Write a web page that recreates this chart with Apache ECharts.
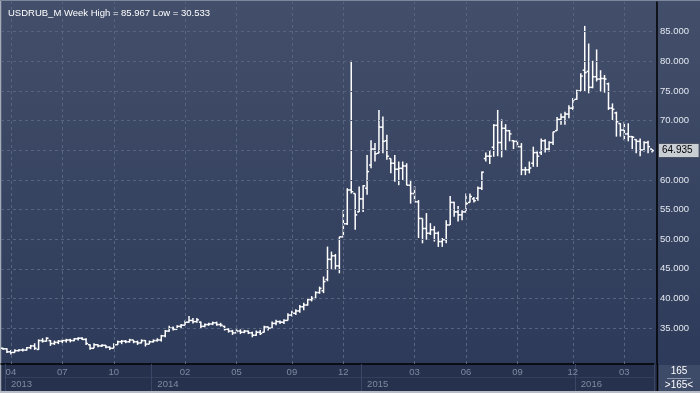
<!DOCTYPE html>
<html><head><meta charset="utf-8">
<script src="https://cdn.jsdelivr.net/npm/echarts@6/dist/echarts.min.js"></script>
<style>html,body{margin:0;padding:0;background:#2e3b58}#c{width:700px;height:393px}</style>
</head><body><div id="c"></div>
<script>
// ---- data (weekly OHLC, USDRUB_M) ----
const open = [
31.6,31.5,31.0,30.9,31.2,31.3,31.3,31.7,32.0,31.4,
32.9,32.8,32.9,32.4,32.6,32.8,32.9,33.0,32.9,33.2,
33.3,33.1,32.2,31.6,32.2,32.0,32.1,31.8,31.6,32.2,
32.7,32.8,32.7,33.0,32.7,32.5,32.9,32.3,32.7,32.9,
33.0,33.7,34.5,35.0,34.8,35.3,35.5,36.0,36.3,36.1,
36.0,35.3,35.6,35.7,35.9,35.6,35.3,34.8,34.5,34.2,
34.5,34.3,34.5,34.2,33.8,34.3,34.3,35.2,35.0,35.8,
36.1,36.0,36.3,37.2,37.5,37.9,38.6,38.9,39.8,40.0,
41.0,41.3,43.2,46.6,47.2,45.5,50.4,52.6,58.3,57.7,
54.6,56.8,58.6,62.5,65.2,64.5,68.9,66.6,63.6,62.8,
61.8,61.95,62.35,59.1,57.7,56.3,53.5,51.8,51.0,51.6,
51.0,49.6,49.9,52.4,56.2,54.6,54.1,54.6,56.2,56.8,
56.9,58.6,63.6,64.0,65.5,69.2,66.3,68.7,68.3,66.6,
66.5,65.6,61.7,61.7,62.8,64.6,64.6,66.6,65.2,66.3,
68.3,70.2,70.6,71.1,72.1,73.6,75.0,78.5,78.3,75.6,
77.4,77.0,77.1,76.2,72.1,71.3,69.5,68.4,67.75,67.3,
66.8,66.5,65.05,66.3,65.2];
const high = [
31.7,31.6,31.3,31.44,31.44,31.55,31.8,32.17,32.45,33.1,
33.3,33.46,33.0,32.9,33.0,33.1,33.2,33.2,33.35,33.46,
33.46,33.3,32.3,32.45,32.3,32.3,32.17,31.9,32.45,32.9,
33.0,33.0,33.2,33.0,32.9,33.1,33.0,32.9,33.1,33.3,
33.86,34.7,35.4,35.26,35.5,35.7,36.3,37.05,36.7,36.7,
36.1,35.8,35.9,36.1,36.1,35.9,35.4,34.98,34.7,34.8,
34.8,34.7,34.6,34.4,34.6,34.7,35.4,35.26,36.1,36.4,
36.3,36.5,37.5,37.95,38.2,38.9,39.3,40.1,40.4,41.2,
42.0,43.7,48.75,47.9,47.5,50.4,54.9,58.6,80.1,57.7,
58.9,59.1,64.2,66.7,66.2,71.8,70.7,67.6,63.6,64.2,
63.1,63.1,62.8,60.0,58.9,56.6,53.5,54.4,52.7,52.2,
51.3,50.2,53.2,57.3,56.3,55.6,54.9,57.7,57.7,57.1,
58.9,61.4,64.6,65.05,69.4,71.8,70.2,69.4,68.4,66.7,
66.6,66.2,62.2,63.1,65.6,64.8,67.0,66.85,66.5,68.1,
70.6,71.2,71.5,72.6,73.8,75.2,78.0,85.967,83.0,80.1,
82.0,78.5,77.7,76.4,72.9,71.5,69.55,69.8,69.55,67.4,
66.85,67.0,66.5,66.6,65.2];
const low = [
31.35,30.8,30.533,30.9,31.05,31.05,31.2,31.44,31.33,31.33,
32.56,32.73,32.0,32.17,32.3,32.45,32.56,32.6,32.8,32.9,
33.0,32.17,31.35,31.6,31.78,31.8,31.6,31.33,31.6,32.17,
32.3,32.45,32.56,32.45,32.17,32.45,31.9,32.3,32.56,32.73,
32.73,33.46,34.4,34.6,34.8,34.98,35.5,35.9,35.8,35.9,
34.98,35.15,35.4,35.5,35.4,35.26,34.6,34.25,33.86,34.14,
34.0,34.14,34.0,33.46,33.7,33.86,34.25,34.6,34.98,35.5,
35.7,35.7,36.3,36.95,37.2,37.6,38.0,38.8,39.5,40.0,
40.8,40.9,42.9,44.9,44.9,44.25,50.3,52.4,57.7,51.6,
54.6,54.6,57.5,61.95,63.1,64.5,64.5,63.4,61.1,59.7,
59.1,60.0,59.1,56.0,56.3,50.2,49.3,49.9,50.7,49.6,
48.7,48.7,49.3,52.4,53.8,53.0,53.2,54.6,56.2,56.2,
56.5,58.3,63.1,62.7,63.9,64.0,63.8,65.05,66.5,65.2,
65.5,60.8,60.8,61.1,62.2,62.2,64.2,64.6,64.8,65.9,
68.3,69.3,69.3,70.4,71.8,73.5,75.0,74.9,74.6,75.45,
76.6,74.9,74.7,71.8,70.1,67.3,67.3,66.7,66.5,65.2,
64.5,64.0,64.8,64.5,64.6];
const close = [
31.5,31.0,30.9,31.2,31.3,31.3,31.7,32.0,31.6,32.9,
32.8,33.3,32.4,32.6,32.8,32.9,33.0,32.9,33.2,33.3,
33.1,32.4,31.6,32.2,32.0,32.1,31.8,31.6,32.2,32.7,
32.8,32.7,33.0,32.7,32.5,32.9,32.3,32.7,32.9,33.0,
33.7,34.5,35.0,34.8,35.3,35.5,36.0,36.3,36.1,36.4,
35.3,35.6,35.7,35.9,35.6,35.5,34.8,34.5,34.2,34.5,
34.3,34.5,34.2,33.8,34.3,34.1,35.2,35.0,35.8,36.1,
36.0,36.3,37.2,37.5,37.9,38.6,38.9,39.8,40.0,41.0,
41.7,42.85,46.6,47.2,45.5,50.4,52.6,58.3,58.0,54.1,
56.8,59.0,61.4,65.2,64.4,68.9,66.5,64.0,62.8,61.8,
61.95,62.35,59.1,57.7,56.3,53.5,51.8,51.0,51.6,51.0,
49.6,49.9,52.4,56.2,54.6,54.1,54.6,56.0,57.2,56.5,
58.6,61.3,64.0,64.0,69.2,66.3,68.7,68.3,67.75,66.5,
65.6,61.7,61.7,62.0,64.6,64.0,66.6,65.2,66.3,68.1,
70.2,70.6,71.1,72.1,73.5,75.0,77.5,78.1,75.6,77.4,
77.0,77.1,77.0,72.1,71.9,69.8,68.4,67.75,67.3,67.2,
66.5,65.05,66.3,65.6,64.935];
const weeks = open.map((_, i) => 'W' + (i + 1));

// ---- tick labels ----
const yTickValues = [35, 40, 45, 50, 55, 60, 65, 70, 75, 80, 85];
const monthTickIdx  = [2, 15, 28, 46, 59, 73, 86, 104, 117, 130, 144, 157];
const monthTickText = ['04','07','10','02','05','09','12','03','06','09','12','03'];
const yearTickIdx  = [1, 38, 91, 145];
const yearTickText = ['2013', '2014', '2015', '2016'];
const barCount = weeks.length;

const FONT = '"Liberation Sans", Arial, sans-serif';
const hi = Math.max(...high), lo = Math.min(...low);
const last = close[close.length - 1];

const ohlc = weeks.map((w, i) => [i, open[i], close[i], low[i], high[i]]);

const chart = echarts.init(document.getElementById('c'), null, {renderer: 'canvas'});
const gridLineStyle = {color: '#56647f', type: [3, 3], width: 1};

const option = {
  animation: false,
  title: {
    text: 'USDRUB_M Week High = ' + hi.toFixed(3) + ' Low = ' + lo.toFixed(3),
    left: 3, top: 3,
    textStyle: {color: '#ffffff', fontSize: 9.5, fontWeight: 'normal', fontFamily: FONT}
  },
  graphic: [
    {type: 'rect', silent: true, z: -100, shape: {x: 0, y: 0, width: 700, height: 393},
     style: {fill: new echarts.graphic.LinearGradient(0, 0, 0, 1, [
       {offset: 0, color: '#434f6a'}, {offset: 0.93, color: '#2d3a59'}, {offset: 1, color: '#2d3a59'}])}},
    {type: 'rect', silent: true, z: -50, shape: {x: 0, y: 364, width: 657, height: 28}, style: {fill: '#26324d'}},
    {type: 'line', silent: true, z: -40, shape: {x1: 4, y1: 377.5, x2: 655, y2: 377.5}, style: {stroke: '#33405c', lineWidth: 1}},
    {type: 'rect', silent: true, z: -40, shape: {x: 658, y: 365, width: 42, height: 27}, style: {fill: '#3d4a68'}},
    {type: 'line', silent: true, z: -30, shape: {x1: 657.5, y1: 364, x2: 657.5, y2: 392}, style: {stroke: '#000', lineWidth: 1.5}},
    {type: 'text', silent: true, style: {text: String(barCount), x: 679, y: 371, align: 'center', verticalAlign: 'middle',
      fill: '#ffffff', fontSize: 10, fontFamily: FONT}},
    {type: 'line', silent: true, shape: {x1: 667, y1: 378.5, x2: 691, y2: 378.5}, style: {stroke: '#8d97ab', lineWidth: 1}},
    {type: 'text', silent: true, style: {text: '>' + barCount + '<', x: 679, y: 385, align: 'center', verticalAlign: 'middle',
      fill: '#ffffff', fontSize: 10, fontFamily: FONT}},
    {type: 'line', silent: true, shape: {x1: 0.5, y1: 0, x2: 0.5, y2: 393}, style: {stroke: '#a3aab8', lineWidth: 1.5}},
    {type: 'line', silent: true, shape: {x1: 0, y1: 392, x2: 700, y2: 392}, style: {stroke: '#b7bcc6', lineWidth: 2}},
    {type: 'line', silent: true, shape: {x1: 0, y1: 0.5, x2: 700, y2: 0.5}, style: {stroke: '#7d879a', lineWidth: 1}}
  ],
  grid: {left: 1, right: 46, top: 2, bottom: 29, containLabel: false},
  xAxis: [{
    type: 'category', data: weeks, boundaryGap: true,
    axisLine: {show: true, lineStyle: {color: '#000000', width: 1.5}},
    axisTick: {show: false},
    splitLine: {show: false},
    axisLabel: {
      interval: (i) => monthTickIdx.includes(i),
      formatter: (v, i) => monthTickText[monthTickIdx.indexOf(i)] || '',
      color: '#7e8aa1', fontSize: 9.5, fontFamily: FONT, margin: 3
    }
  }, {
    type: 'category', data: weeks, boundaryGap: true, position: 'bottom',
    axisLine: {show: false},
    axisTick: {show: true, interval: (i) => yearTickIdx.includes(i), length: 27,
      lineStyle: {color: '#3a4766', width: 1}},
    axisLabel: {
      interval: (i) => yearTickIdx.includes(i),
      formatter: (v, i) => yearTickText[yearTickIdx.indexOf(i)] || '',
      align: 'left', padding: [0, 0, 0, 4],
      color: '#7e8aa1', fontSize: 9.5, fontFamily: FONT, margin: 15
    }
  }],
  yAxis: {
    type: 'value', position: 'right', min: 28.95, max: 90, splitNumber: 12, offset: 3, scale: true,
    axisLine: {show: true, lineStyle: {color: '#000000', width: 1.5}},
    axisTick: {show: false},
    splitLine: {show: false},
    axisLabel: {
      margin: 3, color: '#e3e8f0', fontSize: 9.5, fontFamily: FONT,
      formatter: (v) => (yTickValues.includes(Math.round(v * 1000) / 1000) && Math.abs(v - last) > 2) ? v.toFixed(3) : ''
    }
  },
  series: [{
    type: 'line', data: [], silent: true, z: 1,
    markLine: {
      silent: true, symbol: ['none', 'none'], animation: false,
      label: {show: false}, lineStyle: gridLineStyle,
      data: [
        ...yTickValues.map(v => ({yAxis: v})),
        ...monthTickIdx.map(i => ({xAxis: i}))
      ]
    }
  }, {
    type: 'custom', z: 3, silent: true,
    data: ohlc,
    encode: {x: 0, y: [1, 2, 3, 4]},
    renderItem: function (params, api) {
      const x = api.value(0);
      const o = api.coord([x, api.value(1)]);
      const c = api.coord([x, api.value(2)]);
      const l = api.coord([x, api.value(3)]);
      const h = api.coord([x, api.value(4)]);
      const st = {stroke: '#ffffff', lineWidth: 1.5};
      const tw = 2;
      return {type: 'group', children: [
        {type: 'line', shape: {x1: h[0], y1: h[1], x2: l[0], y2: l[1]}, style: st},
        {type: 'line', shape: {x1: o[0] - tw, y1: o[1], x2: o[0], y2: o[1]}, style: st},
        {type: 'line', shape: {x1: c[0], y1: c[1], x2: c[0] + tw, y2: c[1]}, style: st}
      ]};
    },
    markLine: {
      silent: true, symbol: ['none', 'none'], animation: false,
      lineStyle: {color: 'rgba(0,0,0,0)', width: 0.01},
      data: [{yAxis: last}],
      label: {show: true, position: 'end', distance: 5, formatter: last.toFixed(3),
        color: '#000', backgroundColor: '#c9cdd4', borderColor: '#4a5263', borderWidth: 1,
        padding: [2, 6, 1, 3], fontSize: 10, fontFamily: FONT}
    }
  }]
};
chart.setOption(option);
</script></body></html>
